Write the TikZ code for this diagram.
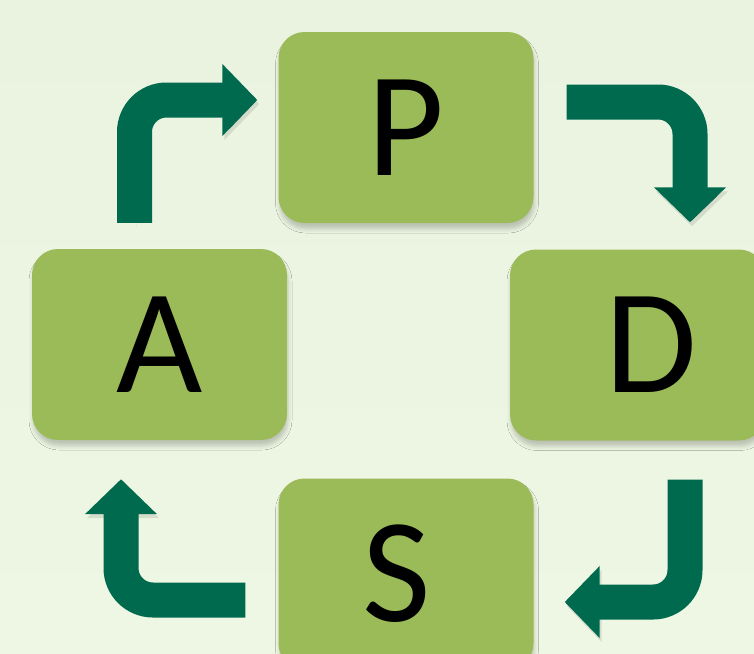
\documentclass[tikz,border=0pt]{standalone}
\usepackage{fontspec}
\setmainfont{Carlito}
\usetikzlibrary{arrows.meta,shadows.blur}
\definecolor{boxgreen}{RGB}{155,187,89}
\definecolor{arrowgreen}{RGB}{0,106,78}
\definecolor{bgtop}{RGB}{234,243,224}
\definecolor{bgbottom}{RGB}{238,247,228}
\begin{document}
\begin{tikzpicture}[x=1pt,y=-1pt,
  phase/.style={fill=boxgreen, rounded corners=26pt, minimum width=255pt, minimum height=191pt,
    inner sep=0pt, font=\fontsize{149}{149}\selectfont,
    blur shadow={shadow xshift=1pt, shadow yshift=-6pt, shadow blur radius=4pt, shadow opacity=20}},
  turn/.style={draw=arrowgreen, line width=35pt, rounded corners=32pt,
    -{Triangle[width=70pt,length=35pt]},
    preaction={draw=black, draw opacity=0.10, transform canvas={shift={(2pt,-4pt)}}}}]
\clip (0,0) rectangle (754,653);
\shade[top color=bgtop, bottom color=bgbottom] (0,0) rectangle (754,653);
\useasboundingbox (0,0) rectangle (754,653);
\node[phase] (p) at (406,127.5) {P};
\node[phase] (a) at (159.5,344.5) {A};
\node[phase] (d) at (637.5,345) {\hspace*{28pt}D};
\node[phase] (s) at (406,574) {S\hspace*{18pt}};
\draw[turn] ([shift={(-25,-26)}]a.north) |- ([shift={(-21,-27.5)}]p.west);
\draw[turn] ([shift={(33,-25.5)}]p.east) -| ([shift={(52.5,-27)}]d.north);
\draw[turn] ([shift={(47.5,39)}]d.south) |- ([shift={(31,28)}]s.east);
\draw[turn] ([shift={(-33,26)}]s.west) -| ([shift={(-38.5,39)}]a.south);
\end{tikzpicture}
\end{document}
